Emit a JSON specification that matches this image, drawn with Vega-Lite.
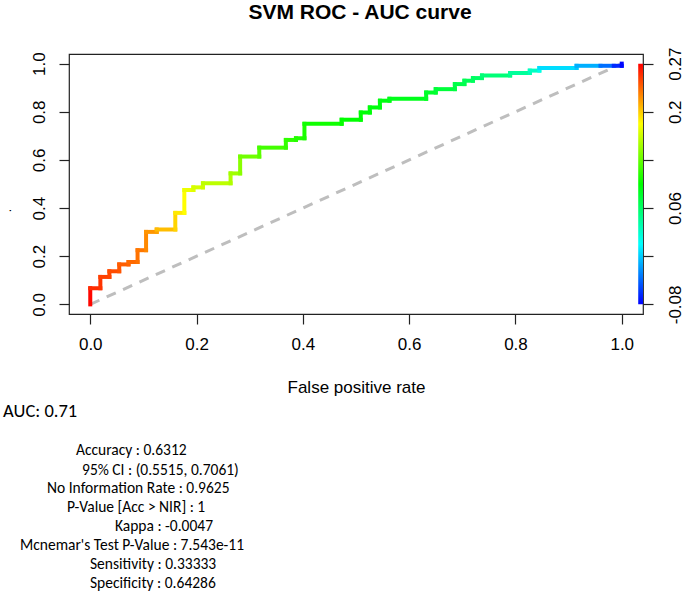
{
  "$schema": "https://vega.github.io/schema/vega-lite/v6.json",
  "width": 574,
  "height": 260,
  "autosize": {"type": "none"},
  "padding": {"left": 69, "top": 54, "right": 42, "bottom": 293},
  "title": {"text": "SVM ROC - AUC curve", "font": "Liberation Sans", "fontSize": 21, "fontWeight": "bold", "color": "black", "anchor": "middle", "frame": "group", "offset": 24, "dx": 4},
  "layer": [
    {
      "layer": [
        {
          "data": {"values": [{"x": 0, "y": 0, "x2": 1, "y2": 1}]},
          "mark": {"type": "rule", "color": "#bebebe", "strokeWidth": 3, "strokeDash": [10, 8]},
          "encoding": {
            "x": {"field": "x", "type": "quantitative", "scale": {"domain": [-0.04, 1.04], "nice": false, "zero": false},
                  "axis": {"values": [0, 0.2, 0.4, 0.6, 0.8, 1], "format": ".1f", "title": "False positive rate", "labelPadding": 12, "titleBaseline": "middle", "titleY": 73, "labelFlush": false, "labelOverlap": false}},
            "y": {"field": "y", "type": "quantitative", "scale": {"domain": [-0.04, 1.04], "nice": false, "zero": false},
                  "axis": {"orient": "left", "values": [0, 0.2, 0.4, 0.6, 0.8, 1], "format": ".1f", "labelAngle": -90, "labelAlign": "center", "labelBaseline": "bottom", "labelPadding": 11, "labelFlush": false, "labelOverlap": false, "title": ".", "titleFontSize": 12, "titleX": -56, "titleY": 156, "titleAngle": -90}},
            "x2": {"field": "x2"},
            "y2": {"field": "y2"}
          }
        },
        {
          "data": {"values": [
            {"x":0,"y":0,"x2":0,"y2":0.067,"c":0.268},
            {"x":0,"y":0.067,"x2":0.019,"y2":0.067,"c":0.255},
            {"x":0.019,"y":0.067,"x2":0.019,"y2":0.114,"c":0.252},
            {"x":0.019,"y":0.114,"x2":0.036,"y2":0.114,"c":0.248},
            {"x":0.036,"y":0.114,"x2":0.036,"y2":0.1375,"c":0.246},
            {"x":0.036,"y":0.1375,"x2":0.0545,"y2":0.1375,"c":0.244},
            {"x":0.0545,"y":0.1375,"x2":0.0545,"y2":0.166,"c":0.241},
            {"x":0.0545,"y":0.166,"x2":0.072,"y2":0.166,"c":0.238},
            {"x":0.072,"y":0.166,"x2":0.072,"y2":0.176,"c":0.236},
            {"x":0.072,"y":0.176,"x2":0.089,"y2":0.176,"c":0.234},
            {"x":0.089,"y":0.176,"x2":0.089,"y2":0.225,"c":0.231},
            {"x":0.089,"y":0.225,"x2":0.105,"y2":0.225,"c":0.229},
            {"x":0.105,"y":0.225,"x2":0.105,"y2":0.301,"c":0.223},
            {"x":0.105,"y":0.301,"x2":0.125,"y2":0.301,"c":0.219},
            {"x":0.125,"y":0.301,"x2":0.125,"y2":0.311,"c":0.214},
            {"x":0.125,"y":0.311,"x2":0.16,"y2":0.311,"c":0.205},
            {"x":0.16,"y":0.311,"x2":0.16,"y2":0.38,"c":0.197},
            {"x":0.16,"y":0.38,"x2":0.177,"y2":0.38,"c":0.19},
            {"x":0.177,"y":0.38,"x2":0.177,"y2":0.475,"c":0.183},
            {"x":0.177,"y":0.475,"x2":0.194,"y2":0.475,"c":0.176},
            {"x":0.194,"y":0.475,"x2":0.194,"y2":0.486,"c":0.172},
            {"x":0.194,"y":0.486,"x2":0.212,"y2":0.486,"c":0.168},
            {"x":0.212,"y":0.486,"x2":0.212,"y2":0.503,"c":0.165},
            {"x":0.212,"y":0.503,"x2":0.264,"y2":0.503,"c":0.16},
            {"x":0.264,"y":0.503,"x2":0.264,"y2":0.544,"c":0.155},
            {"x":0.264,"y":0.544,"x2":0.282,"y2":0.544,"c":0.15},
            {"x":0.282,"y":0.544,"x2":0.282,"y2":0.614,"c":0.142},
            {"x":0.282,"y":0.614,"x2":0.318,"y2":0.614,"c":0.134},
            {"x":0.318,"y":0.614,"x2":0.318,"y2":0.651,"c":0.126},
            {"x":0.318,"y":0.651,"x2":0.368,"y2":0.651,"c":0.118},
            {"x":0.368,"y":0.651,"x2":0.368,"y2":0.683,"c":0.113},
            {"x":0.368,"y":0.683,"x2":0.387,"y2":0.683,"c":0.111},
            {"x":0.387,"y":0.683,"x2":0.387,"y2":0.69,"c":0.109},
            {"x":0.387,"y":0.69,"x2":0.403,"y2":0.69,"c":0.107},
            {"x":0.403,"y":0.69,"x2":0.403,"y2":0.75,"c":0.104},
            {"x":0.403,"y":0.75,"x2":0.473,"y2":0.75,"c":0.1},
            {"x":0.473,"y":0.75,"x2":0.473,"y2":0.767,"c":0.097},
            {"x":0.473,"y":0.767,"x2":0.509,"y2":0.767,"c":0.095},
            {"x":0.509,"y":0.767,"x2":0.509,"y2":0.797,"c":0.094},
            {"x":0.509,"y":0.797,"x2":0.526,"y2":0.797,"c":0.093},
            {"x":0.526,"y":0.797,"x2":0.526,"y2":0.818,"c":0.092},
            {"x":0.526,"y":0.818,"x2":0.545,"y2":0.818,"c":0.091},
            {"x":0.545,"y":0.818,"x2":0.545,"y2":0.846,"c":0.09},
            {"x":0.545,"y":0.846,"x2":0.563,"y2":0.846,"c":0.089},
            {"x":0.563,"y":0.846,"x2":0.563,"y2":0.854,"c":0.088},
            {"x":0.563,"y":0.854,"x2":0.632,"y2":0.854,"c":0.086},
            {"x":0.632,"y":0.854,"x2":0.632,"y2":0.88,"c":0.083},
            {"x":0.632,"y":0.88,"x2":0.65,"y2":0.88,"c":0.081},
            {"x":0.65,"y":0.88,"x2":0.65,"y2":0.894,"c":0.078},
            {"x":0.65,"y":0.894,"x2":0.686,"y2":0.894,"c":0.075},
            {"x":0.686,"y":0.894,"x2":0.686,"y2":0.915,"c":0.072},
            {"x":0.686,"y":0.915,"x2":0.704,"y2":0.915,"c":0.07},
            {"x":0.704,"y":0.915,"x2":0.704,"y2":0.929,"c":0.068},
            {"x":0.704,"y":0.929,"x2":0.72,"y2":0.929,"c":0.066},
            {"x":0.72,"y":0.929,"x2":0.72,"y2":0.94,"c":0.063},
            {"x":0.72,"y":0.94,"x2":0.737,"y2":0.94,"c":0.061},
            {"x":0.737,"y":0.94,"x2":0.737,"y2":0.951,"c":0.058},
            {"x":0.737,"y":0.951,"x2":0.79,"y2":0.951,"c":0.054},
            {"x":0.79,"y":0.951,"x2":0.79,"y2":0.961,"c":0.048},
            {"x":0.79,"y":0.961,"x2":0.827,"y2":0.961,"c":0.042},
            {"x":0.827,"y":0.961,"x2":0.827,"y2":0.971,"c":0.035},
            {"x":0.827,"y":0.971,"x2":0.845,"y2":0.971,"c":0.028},
            {"x":0.845,"y":0.971,"x2":0.845,"y2":0.982,"c":0.015},
            {"x":0.845,"y":0.982,"x2":0.915,"y2":0.982,"c":-0.004},
            {"x":0.915,"y":0.982,"x2":0.915,"y2":0.991,"c":-0.012},
            {"x":0.915,"y":0.991,"x2":0.96,"y2":0.991,"c":-0.02},
            {"x":0.96,"y":0.991,"x2":0.985,"y2":0.991,"c":-0.042},
            {"x":0.985,"y":0.991,"x2":1,"y2":0.991,"c":-0.066},
            {"x":1,"y":0.991,"x2":1,"y2":1,"c":-0.078}
          ]},
          "mark": {"type": "rule", "strokeWidth": 4, "strokeCap": "square"},
          "encoding": {
            "x": {"field": "x", "type": "quantitative", "scale": {"domain": [-0.04, 1.04], "nice": false, "zero": false}},
            "y": {"field": "y", "type": "quantitative", "scale": {"domain": [-0.04, 1.04], "nice": false, "zero": false}},
            "x2": {"field": "x2"},
            "y2": {"field": "y2"},
            "color": {"field": "c", "type": "quantitative", "legend": null,
                      "scale": {"type": "linear", "domain": [-0.08, 0.0075, 0.095, 0.1825, 0.27], "range": ["#0000ff", "#00ffff", "#00ff00", "#ffff00", "#ff0000"], "interpolate": "rgb"}}
          }
        },
        {
          "data": {"values": [{"label": "AUC: 0.71"}]},
          "mark": {"type": "text", "align": "left", "baseline": "middle", "font": "Carlito, Lato", "fontSize": 18.5, "color": "black"},
          "encoding": {"x": {"datum": -0.164, "type": "quantitative"}, "y": {"datum": -0.443, "type": "quantitative"}, "text": {"field": "label"}}
        },
        {
          "data": {"values": [{"label": "Accuracy : 0.6312"}]},
          "mark": {"type": "text", "align": "left", "baseline": "middle", "font": "Carlito, Lato", "fontSize": 15.5, "color": "black"},
          "encoding": {"x": {"datum": -0.0268, "type": "quantitative"}, "y": {"datum": -0.6049, "type": "quantitative"}, "text": {"field": "label"}}
        },
        {
          "data": {"values": [{"label": "95% CI : (0.5515, 0.7061)"}]},
          "mark": {"type": "text", "align": "left", "baseline": "middle", "font": "Carlito, Lato", "fontSize": 15.5, "color": "black"},
          "encoding": {"x": {"datum": -0.0155, "type": "quantitative"}, "y": {"datum": -0.688, "type": "quantitative"}, "text": {"field": "label"}}
        },
        {
          "data": {"values": [{"label": "No Information Rate : 0.9625"}]},
          "mark": {"type": "text", "align": "left", "baseline": "middle", "font": "Carlito, Lato", "fontSize": 15.5, "color": "black"},
          "encoding": {"x": {"datum": -0.0814, "type": "quantitative"}, "y": {"datum": -0.7628, "type": "quantitative"}, "text": {"field": "label"}}
        },
        {
          "data": {"values": [{"label": "P-Value [Acc > NIR] : 1"}]},
          "mark": {"type": "text", "align": "left", "baseline": "middle", "font": "Carlito, Lato", "fontSize": 15.5, "color": "black"},
          "encoding": {"x": {"datum": -0.0438, "type": "quantitative"}, "y": {"datum": -0.8417, "type": "quantitative"}, "text": {"field": "label"}}
        },
        {
          "data": {"values": [{"label": "Kappa : -0.0047"}]},
          "mark": {"type": "text", "align": "left", "baseline": "middle", "font": "Carlito, Lato", "fontSize": 15.5, "color": "black"},
          "encoding": {"x": {"datum": 0.0465, "type": "quantitative"}, "y": {"datum": -0.9206, "type": "quantitative"}, "text": {"field": "label"}}
        },
        {
          "data": {"values": [{"label": "Mcnemar's Test P-Value : 7.543e-11"}]},
          "mark": {"type": "text", "align": "left", "baseline": "middle", "font": "Carlito, Lato", "fontSize": 15.5, "color": "black"},
          "encoding": {"x": {"datum": -0.1322, "type": "quantitative"}, "y": {"datum": -0.9995, "type": "quantitative"}, "text": {"field": "label"}}
        },
        {
          "data": {"values": [{"label": "Sensitivity : 0.33333"}]},
          "mark": {"type": "text", "align": "left", "baseline": "middle", "font": "Carlito, Lato", "fontSize": 15.5, "color": "black"},
          "encoding": {"x": {"datum": -0.0005, "type": "quantitative"}, "y": {"datum": -1.0784, "type": "quantitative"}, "text": {"field": "label"}}
        },
        {
          "data": {"values": [{"label": "Specificity : 0.64286"}]},
          "mark": {"type": "text", "align": "left", "baseline": "middle", "font": "Carlito, Lato", "fontSize": 15.5, "color": "black"},
          "encoding": {"x": {"datum": -0.0005, "type": "quantitative"}, "y": {"datum": -1.1574, "type": "quantitative"}, "text": {"field": "label"}}
        }
      ]
    },
    {
      "data": {"values": [{"lo": -0.08, "hi": 0.27}]},
      "mark": {"type": "rect", "fill": {"gradient": "linear", "x1": 0, "y1": 0, "x2": 0, "y2": 1, "stops": [{"offset": 0, "color": "#ff0000"}, {"offset": 0.25, "color": "#ffff00"}, {"offset": 0.5, "color": "#00ff00"}, {"offset": 0.75, "color": "#00ffff"}, {"offset": 1, "color": "#0000ff"}]}},
      "encoding": {
        "x": {"datum": 1.031, "type": "quantitative", "scale": {"domain": [-0.04, 1.04], "nice": false, "zero": false}},
        "x2": {"datum": 1.04},
        "y": {"field": "lo", "type": "quantitative", "scale": {"domain": [-0.094, 0.284], "nice": false, "zero": false},
              "axis": {"orient": "right", "title": null, "values": [-0.08, -0.01, 0.06, 0.13, 0.2, 0.27], "labelAngle": -90, "labelAlign": "center", "labelBaseline": "top", "labelPadding": 14, "labelFlush": false, "labelOverlap": false,
                       "labelExpr": "datum.value < -0.05 ? '-0.08' : datum.value > 0.25 ? '0.27' : (datum.value > 0.15 ? '0.2' : (datum.value > 0.03 && datum.value < 0.09 ? '0.06' : ''))"}},
        "y2": {"field": "hi"}
      }
    }
  ],
  "resolve": {"scale": {"y": "independent"}, "axis": {"y": "independent"}},
  "config": {
    "background": "white",
    "view": {"stroke": "#222222", "strokeWidth": 1.2},
    "axis": {"labelFont": "Liberation Sans", "labelFontSize": 17, "labelColor": "black", "tickColor": "#222222", "tickWidth": 1.2, "tickSize": 10, "titleFont": "Liberation Sans", "titleFontSize": 17, "titleFontWeight": "normal", "titleColor": "black", "grid": false, "domain": false}
  }
}
